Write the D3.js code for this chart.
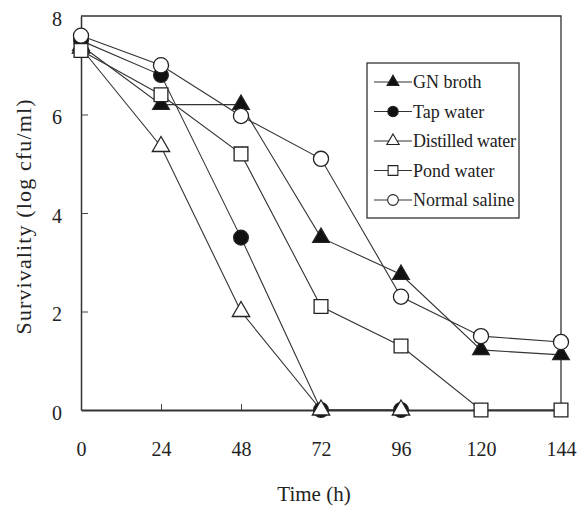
<!DOCTYPE html>
<html>
<head>
<meta charset="utf-8">
<script src="https://cdn.jsdelivr.net/npm/d3@7"></script>
<style>
  body { margin: 0; background: #fff; }
  text { font-family: "Liberation Serif", "Times New Roman", serif; fill: #222; }
</style>
</head>
<body>
<div id="chart"></div>
<script>
// data
var hours = [0, 24, 48, 72, 96, 120, 144];
var yTicks = [0, 2, 4, 6, 8];
var gnBroth = [7.4, 6.2, 6.2, 3.5, 2.75, 1.22, 1.12];
var tapWater = [7.5, 6.8, 3.5, 0, 0];
var distilledWater = [7.35, 5.35, 2.0, 0, 0];
var pondWater = [7.3, 6.4, 5.2, 2.1, 1.3, 0, 0];
var normalSaline = [7.6, 7.0, 5.97, 5.1, 2.3, 1.5, 1.38];
var seriesNames = ["GN broth", "Tap water", "Distilled water", "Pond water", "Normal saline"];

function chart(){
	var margin = {top: 16, right: 18, bottom: 101, left: 81};
	var width = 579 - margin.left - margin.right, height = 511 - margin.top - margin.bottom;

	var svg = d3.select("#chart")
		.append("svg")
		.attr("width", width + margin.left + margin.right)
		.attr("height", height + margin.top + margin.bottom)
		.append("g")
		.attr("transform", "translate(" + margin.left + ", " + margin.top + ")");

	var x = d3.scaleLinear().range([0, width]).domain([0, 144]);
	var y = d3.scaleLinear().range([height, 0]).domain([0, 8]);

	// frame (top and right)
	svg.append("path")
		.attr("d", "M0,0H" + width + "V" + height)
		.attr("fill", "none")
		.attr("stroke", "#333")
		.attr("stroke-width", 1.3);

	// axes with inward ticks
	var xAxis = svg.append("g")
		.attr("transform", "translate(0," + height + ")")
		.call(d3.axisBottom(x).tickValues(hours).tickSize(-6).tickPadding(32).tickSizeOuter(0));
	var yAxis = svg.append("g")
		.call(d3.axisLeft(y).tickValues(yTicks).tickSize(-7).tickPadding(19).tickSizeOuter(0));
	[xAxis, yAxis].forEach(function(a){
		a.select(".domain").attr("stroke", "#333");
		a.selectAll(".tick line").attr("stroke", "#444");
		a.selectAll(".tick text")
			.attr("font-family", "Liberation Serif, serif")
			.attr("font-size", 20)
			.attr("fill", "#222");
	});
	yAxis.selectAll(".tick text").attr("dy", "0.45em");
	xAxis.select(".domain").attr("stroke-width", 2.2);
	yAxis.select(".domain").attr("stroke-width", 1.5);
	xAxis.selectAll(".tick").filter(function(d){ return d == 0 || d == 144; }).select("line").remove();
	yAxis.selectAll(".tick").filter(function(d){ return d == 0 || d == 8; }).select("line").remove();

	// axis titles
	svg.append("text")
		.attr("transform", "translate(" + (314 - margin.left) + ", " + (501 - margin.top) + ")")
		.style("text-anchor", "middle")
		.attr("font-size", 21)
		.text("Time (h)");
	svg.append("text")
		.attr("transform", "rotate(-90)")
		.attr("y", 31 - margin.left)
		.attr("x", -(217 - margin.top))
		.style("text-anchor", "middle")
		.attr("font-size", 22)
		.attr("textLength", 235)
		.text("Survivality (log cfu/ml)");

	var series = [
		{name: seriesNames[0], values: gnBroth, shape: d3.symbolTriangle, size: 120, fill: "#111"},
		{name: seriesNames[1], values: tapWater, shape: d3.symbolCircle, size: 170, fill: "#111"},
		{name: seriesNames[2], values: distilledWater, shape: d3.symbolTriangle, size: 130, fill: "#fff"},
		{name: seriesNames[3], values: pondWater, shape: d3.symbolSquare, size: 190, fill: "#fff"},
		{name: seriesNames[4], values: normalSaline, shape: d3.symbolCircle, size: 180, fill: "#fff"}
	];

	var line = d3.line()
		.x(function(d,i){ return x(hours[i]); })
		.y(function(d){ return y(d); });

	// lines
	svg.selectAll("seriesLines")
		.data(series)
		.enter()
		.append("path")
		.attr("d", function(d){ return line(d.values); })
		.attr("fill", "none")
		.attr("stroke", "#333")
		.attr("stroke-width", 1.1);

	// markers
	series.forEach(function(s){
		svg.selectAll("pts")
			.data(s.values)
			.enter()
			.append("path")
			.attr("transform", function(d,i){ return "translate(" + x(hours[i]) + "," + y(d) + ")"; })
			.attr("d", d3.symbol().type(s.shape).size(s.size))
			.attr("fill", s.fill)
			.attr("stroke", "#222")
			.attr("stroke-width", 1.3);
	});

	// legend
	var lg = svg.append("g").attr("transform", "translate(" + (367 - margin.left) + "," + (63 - margin.top) + ")");
	lg.append("rect")
		.attr("width", 152)
		.attr("height", 155)
		.attr("fill", "#fff")
		.attr("stroke", "#333")
		.attr("stroke-width", 1.3);
	var items = lg.selectAll("items")
		.data(series)
		.enter()
		.append("g")
		.attr("transform", function(d,i){ return "translate(0," + (19 + i*29.5) + ")"; });
	items.append("line")
		.attr("x1", 7).attr("x2", 45)
		.attr("stroke", "#333")
		.attr("stroke-width", 1.2);
	items.append("path")
		.attr("transform", "translate(26,0)")
		.attr("d", function(d){ return d3.symbol().type(d.shape).size(d.size*0.5)(); })
		.attr("fill", function(d){ return d.fill; })
		.attr("stroke", "#222")
		.attr("stroke-width", 1.1);
	items.append("text")
		.attr("x", 46)
		.attr("y", 6)
		.attr("font-size", 18)
		.attr("textLength", function(d,i){ return i == 2 ? 103 : null; })
		.text(function(d){ return d.name; });
}

chart();
</script>
</body>
</html>
